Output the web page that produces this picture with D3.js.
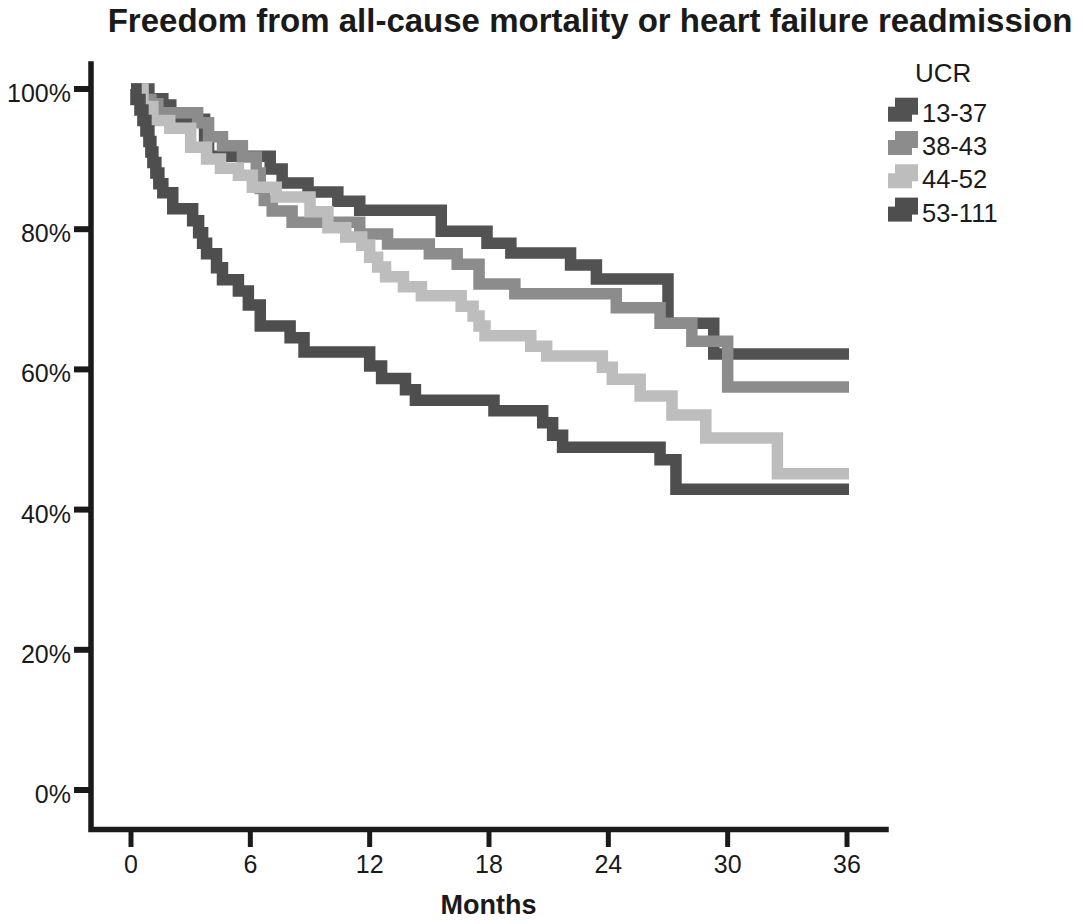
<!DOCTYPE html>
<html>
<head>
<meta charset="utf-8">
<script src="https://cdn.jsdelivr.net/npm/d3@7"></script>
<style>
  body { margin: 0; background: #fff; }
  svg { display: block; font-family: "Liberation Sans", Arial, sans-serif; }
</style>
</head>
<body>
<script>
// UCR groups, legend order
const groups = ['13-37', '38-43', '44-52', '53-111'];
const groupColors = ['#525252', '#8c8c8c', '#bdbdbd', '#4e4e4e'];

// Kaplan-Meier steps: months, freedom from event (%)
const times1337 = [0, 0.9, 1.6, 2.0, 3.7, 3.9, 7.0, 7.6, 8.9, 10.4, 11.5, 15.6, 17.9, 19.1, 22.1, 23.4, 27.0, 29.3];
const surv1337 = [100, 98.6, 97.7, 95.7, 92.5, 90.4, 88.6, 86.6, 85.3, 84.0, 82.7, 79.7, 78.0, 76.6, 74.9, 72.9, 66.6, 62.2];

const times3843 = [0, 0.6, 1.0, 1.35, 3.35, 3.9, 4.6, 5.6, 6.3, 6.5, 6.7, 7.1, 8.1, 11.5, 12.9, 15.0, 16.4, 17.5, 19.3, 24.4, 26.6, 28.2, 30.0];
const surv3843 = [100, 98.5, 97.9, 96.6, 95.2, 93.2, 91.9, 90.3, 88.0, 85.8, 84.1, 82.6, 81.0, 79.3, 77.9, 76.5, 75.0, 72.2, 70.8, 68.8, 66.6, 64.0, 57.5];

const times4452 = [0, 0.6, 1.1, 1.95, 3.0, 3.8, 4.5, 5.4, 6.1, 7.3, 9.0, 9.9, 10.8, 11.6, 12.0, 12.4, 12.8, 13.7, 14.6, 16.6, 17.2, 17.5, 17.8, 20.1, 20.9, 23.7, 24.2, 25.6, 27.2, 28.9, 32.5];
const surv4452 = [100, 97.5, 95.5, 94.4, 91.7, 90.0, 88.7, 87.7, 86.0, 84.6, 82.5, 80.2, 78.9, 77.7, 76.0, 74.6, 73.2, 71.8, 70.5, 69.0, 67.6, 66.2, 64.8, 63.3, 61.9, 60.3, 58.6, 56.2, 53.5, 50.2, 45.1];

const times53111 = [0, 0.25, 0.45, 0.6, 0.75, 0.9, 1.0, 1.1, 1.25, 1.4, 1.6, 2.1, 3.1, 3.4, 3.6, 3.8, 4.3, 4.6, 5.4, 5.9, 6.5, 8.0, 8.7, 12.0, 12.6, 13.8, 14.3, 18.25, 20.7, 21.2, 21.7, 26.6, 27.4];
const surv53111 = [100, 98.5, 97, 95.5, 94, 92.5, 91, 89.5, 88, 86.5, 85.2, 82.9, 81.2, 79.5, 78, 76.5, 74.5, 72.8, 71.2, 69.2, 66.2, 64.5, 62.5, 60.5, 58.7, 57.1, 55.6, 54.1, 52.4, 50.6, 48.9, 47.1, 42.9];

const followUpEnd = 36.1;
const xTicks = [0, 6, 12, 18, 24, 30, 36];
const yTicks = [0, 20, 40, 60, 80, 100];

const series = [
  { name: groups[0], times: times1337, surv: surv1337, color: groupColors[0] },
  { name: groups[1], times: times3843, surv: surv3843, color: groupColors[1] },
  { name: groups[2], times: times4452, surv: surv4452, color: groupColors[2] },
  { name: groups[3], times: times53111, surv: surv53111, color: groupColors[3] }
];

const width = 1083, height = 924;
const svg = d3.select('body').append('svg')
  .attr('width', width)
  .attr('height', height);

const x = d3.scaleLinear().domain([0, 36]).range([131, 847]);
const y = d3.scaleLinear().domain([0, 100]).range([790, 89]);

const axisX = 91, axisY = 829.5, axisTop = 64, axisRight = 886;

// title
svg.append('text')
  .attr('x', 590).attr('y', 32)
  .attr('text-anchor', 'middle')
  .style('font-size', '33px').style('font-weight', 'bold').style('fill', '#1a1a1a')
  .text('Freedom from all-cause mortality or heart failure readmission');

// curves
const line = d3.line()
  .x(d => x(d[0]))
  .y(d => y(d[1]))
  .curve(d3.curveStepAfter);

svg.append('g')
  .attr('fill', 'none')
  .attr('stroke-width', 11.5)
  .attr('stroke-linejoin', 'miter')
  .selectAll('path')
  .data(series)
  .enter().append('path')
  .attr('stroke', d => d.color)
  .attr('d', d => {
    const pts = d.times.map((t, i) => [t, d.surv[i]]);
    pts.push([followUpEnd, d.surv[d.surv.length - 1]]);
    return line(pts);
  });

// axes
const gAxis = svg.append('g').attr('stroke', '#1a1a1a');
gAxis.append('path')
  .attr('fill', 'none')
  .attr('stroke-width', 5.5)
  .attr('stroke-linecap', 'square')
  .attr('d', `M${axisX},${axisTop}V${axisY}H${axisRight}`);

gAxis.selectAll('.ytick')
  .data(yTicks)
  .enter().append('line')
  .attr('stroke-width', 6)
  .attr('x1', 74).attr('x2', axisX)
  .attr('y1', d => y(d)).attr('y2', d => y(d));

gAxis.selectAll('.xtick')
  .data(xTicks)
  .enter().append('line')
  .attr('stroke-width', 5)
  .attr('x1', d => x(d)).attr('x2', d => x(d))
  .attr('y1', axisY).attr('y2', 847);

svg.append('g')
  .style('font-size', '25px').style('fill', '#1a1a1a')
  .selectAll('text')
  .data(yTicks)
  .enter().append('text')
  .attr('x', 71)
  .attr('y', d => y(d) + 13)
  .attr('text-anchor', 'end')
  .text(d => d + '%');

svg.append('g')
  .style('font-size', '25px').style('fill', '#1a1a1a')
  .selectAll('text')
  .data(xTicks)
  .enter().append('text')
  .attr('x', d => x(d))
  .attr('y', 873)
  .attr('text-anchor', 'middle')
  .text(d => d);

svg.append('text')
  .attr('x', (axisX + axisRight) / 2).attr('y', 914)
  .attr('text-anchor', 'middle')
  .style('font-size', '27px').style('font-weight', 'bold').style('fill', '#1a1a1a')
  .text('Months');

// legend
const legend = svg.append('g').style('fill', '#1a1a1a');
legend.append('text')
  .attr('x', 915).attr('y', 81.5)
  .style('font-size', '26px')
  .text('UCR');

const item = legend.selectAll('.item')
  .data(series)
  .enter().append('g')
  .attr('transform', (d, i) => `translate(0,${121.7 + i * 33.3})`);

item.append('rect')
  .attr('x', 888).attr('y', -15).attr('width', 24).attr('height', 15)
  .attr('fill', d => d.color);
item.append('rect')
  .attr('x', 895).attr('y', -24).attr('width', 23).attr('height', 17)
  .attr('fill', d => d.color);
item.append('text')
  .attr('x', 922)
  .style('font-size', '25.5px')
  .text(d => d.name);
</script>
</body>
</html>
